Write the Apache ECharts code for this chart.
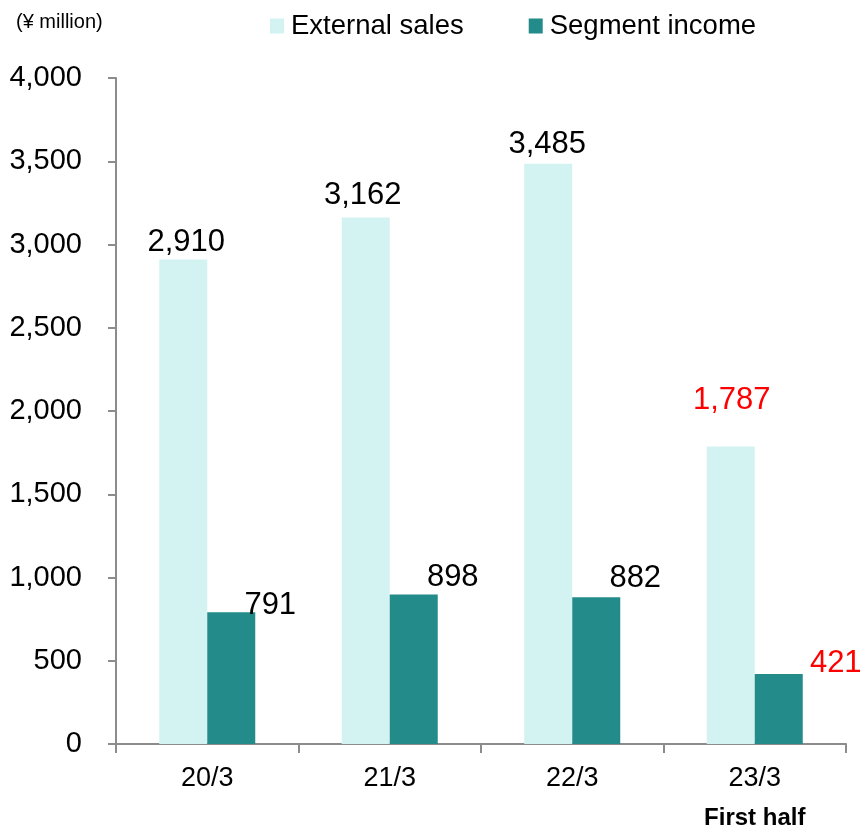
<!DOCTYPE html>
<html>
<head>
<meta charset="utf-8">
<script src="https://cdn.jsdelivr.net/npm/echarts@6/dist/echarts.min.js"></script>
<style>
  html, body { margin: 0; padding: 0; background: #ffffff; }
  #chart { width: 863px; height: 828px; }
</style>
</head>
<body>
<div id="chart"></div>
<script>
// Fiscal periods and the note printed under the last one
const categories = ['20/3', '21/3', '22/3', '23/3'];
const periodNotes = ['', '', '', 'First half'];

// Values in ¥ million
const externalSales = [2910, 3162, 3485, 1787];
const segmentIncome = [791, 898, 882, 421];

// Value axis ticks
const yMin = 0;
const yMax = 4000;
const yStep = 500;

// Label placement per bar (pixel offsets from the bar's top-left corner) and colour
const salesLabelPos = [[27, -17], [21, -22], [23, -19], [25, -46]];
const incomeLabelPos = [[63, -7], [63, -17], [63, -19], [81, -10]];
const labelColors = ['#000000', '#000000', '#000000', '#ff0000'];

const FONT = '"Liberation Sans", Arial, sans-serif';
const AXIS_GREY = '#8c8c8c';

function labelledData(values, positions) {
  return values.map((v, i) => ({
    value: v,
    label: { position: positions[i], color: labelColors[i] }
  }));
}

const chart = echarts.init(document.getElementById('chart'), null, { renderer: 'canvas' });

chart.setOption({
  animation: false,
  backgroundColor: '#ffffff',
  textStyle: { fontFamily: FONT },
  title: {
    text: '(¥ million)',
    left: 11,
    top: 7,
    textStyle: { fontFamily: FONT, fontSize: 20, fontWeight: 'normal', color: '#000000' }
  },
  legend: {
    left: 265,
    top: 7,
    itemWidth: 14,
    itemHeight: 15,
    itemGap: 65,
    icon: 'rect',
    textStyle: { fontFamily: FONT, fontSize: 27.5, color: '#000000', padding: [0, 0, 0, 2] },
    data: ['External sales', 'Segment income']
  },
  grid: {
    left: 116, right: 17, top: 78, bottom: 84,
    containLabel: false,
    outerBoundsMode: 'none'
  },
  xAxis: {
    type: 'category',
    data: categories,
    axisLine: { lineStyle: { color: AXIS_GREY, width: 2 } },
    axisTick: { show: true, interval: 0, length: 9, inside: false, lineStyle: { color: AXIS_GREY, width: 2 } },
    axisLabel: {
      interval: 0,
      margin: 15,
      color: '#000000',
      fontFamily: FONT,
      fontSize: 27,
      lineHeight: 40,
      formatter: (value, idx) => periodNotes[idx] ? value + '\n{note|' + periodNotes[idx] + '}' : value,
      rich: {
        note: { fontFamily: FONT, fontSize: 24, fontWeight: 'bold', color: '#000000', lineHeight: 38 }
      }
    }
  },
  yAxis: {
    type: 'value',
    min: yMin,
    max: yMax,
    interval: yStep,
    axisLine: { show: true, lineStyle: { color: AXIS_GREY, width: 2 } },
    axisTick: { show: true, length: 8, lineStyle: { color: AXIS_GREY, width: 2 } },
    splitLine: { show: false },
    axisLabel: {
      margin: 34,
      color: '#000000',
      fontFamily: FONT,
      fontSize: 29,
      formatter: v => v.toLocaleString('en-US')
    }
  },
  series: [
    {
      name: 'External sales',
      type: 'bar',
      barWidth: 48,
      barGap: '0%',
      itemStyle: { color: '#d3f2f2' },
      label: {
        show: true,
        align: 'center',
        verticalAlign: 'middle',
        fontFamily: FONT,
        fontSize: 31,
        formatter: p => p.value.toLocaleString('en-US')
      },
      data: labelledData(externalSales, salesLabelPos)
    },
    {
      name: 'Segment income',
      type: 'bar',
      barWidth: 48,
      barGap: '0%',
      itemStyle: { color: '#238b8a' },
      label: {
        show: true,
        align: 'center',
        verticalAlign: 'middle',
        fontFamily: FONT,
        fontSize: 31,
        formatter: p => p.value.toLocaleString('en-US')
      },
      data: labelledData(segmentIncome, incomeLabelPos)
    }
  ]
});
</script>
</body>
</html>
